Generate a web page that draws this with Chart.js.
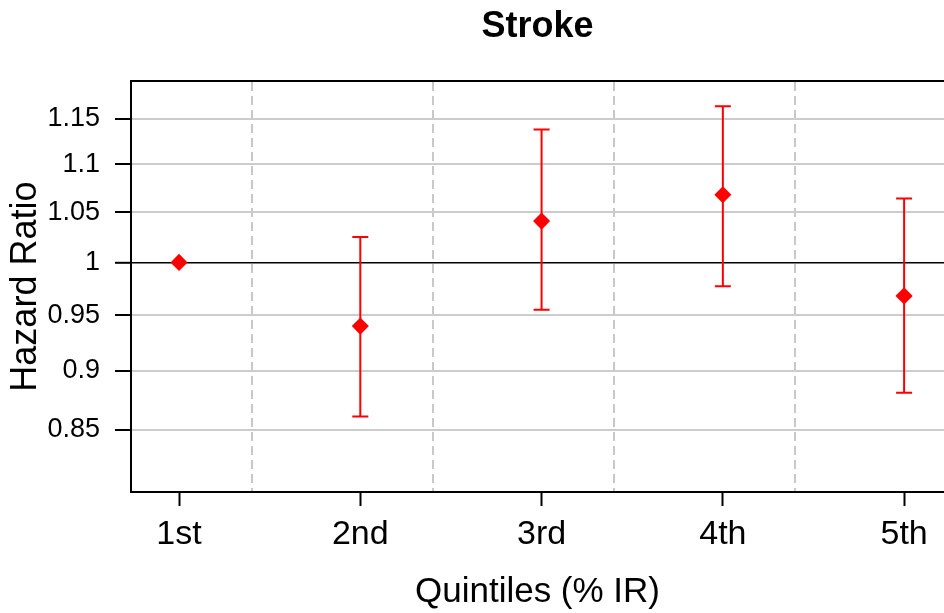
<!DOCTYPE html>
<html>
<head>
<meta charset="utf-8">
<script src="https://cdn.jsdelivr.net/npm/chart.js@4/dist/chart.umd.min.js"></script>
<style>
  html, body { margin: 0; padding: 0; background: #fff; overflow: hidden; }
  #c { display: block; }
</style>
</head>
<body>
<canvas id="c" width="944" height="613"></canvas>
<script>
const categories = ['1st', '2nd', '3rd', '4th', '5th'];
const hazardRatio = [1.000, 0.940, 1.041, 1.068, 0.968];
const lowerCI = [null, 0.861, 0.955, 0.977, 0.881];
const upperCI = [null, 1.025, 1.138, 1.164, 1.064];
const yTickValues = [0.85, 0.9, 0.95, 1, 1.05, 1.1, 1.15];
const dividerPositions = [1.4, 2.4, 3.4, 4.4];

const FONT = "'Liberation Sans', Arial, sans-serif";
Chart.defaults.color = '#000';
Chart.defaults.font.family = FONT;

const points = categories.map((c, i) => ({ x: i + 1, y: hazardRatio[i] }));

const errorBars = {
  id: 'errorBars',
  beforeDatasetsDraw(chart) {
    const xs = chart.scales.x, ys = chart.scales.y, ctx = chart.ctx;
    ctx.save();
    ctx.setLineDash([]);
    ctx.strokeStyle = '#ff0000';
    ctx.lineWidth = 2;
    categories.forEach((c, i) => {
      if (lowerCI[i] == null || upperCI[i] == null) return;
      const px = xs.getPixelForValue(i + 1);
      const pLo = ys.getPixelForValue(lowerCI[i]);
      const pHi = ys.getPixelForValue(upperCI[i]);
      ctx.beginPath();
      ctx.moveTo(px, pLo); ctx.lineTo(px, pHi);
      ctx.moveTo(px - 8, pLo); ctx.lineTo(px + 8, pLo);
      ctx.moveTo(px - 8, pHi); ctx.lineTo(px + 8, pHi);
      ctx.stroke();
    });
    ctx.restore();
  }
};

function noSidePadding(s) { s.paddingLeft = 0; s.paddingRight = 0; }

new Chart(document.getElementById('c'), {
  type: 'scatter',
  data: {
    datasets: [{
      data: points,
      pointStyle: 'rectRot',
      pointRadius: 7.5,
      pointHoverRadius: 7.5,
      backgroundColor: '#ff0000',
      borderColor: '#ff0000',
      borderWidth: 1.5
    }]
  },
  plugins: [errorBars],
  options: {
    responsive: false,
    animation: false,
    devicePixelRatio: 1,
    layout: { padding: 0, autoPadding: false },
    plugins: {
      legend: { display: false },
      tooltip: { enabled: false },
      title: {
        display: true,
        text: 'Stroke',
        fullSize: false,
        color: '#000',
        font: { family: FONT, size: 36, weight: 'bold', lineHeight: 1.2 },
        padding: { top: 5, bottom: 33 }
      }
    },
    scales: {
      x: {
        type: 'linear',
        position: 'bottom',
        min: 0.735,
        max: 5.22,
        afterBuildTicks(s) { s.ticks = categories.map((c, i) => ({ value: i + 1 })); },
        afterFit(s) { s.height = 121; noSidePadding(s); },
        ticks: {
          callback: (v) => categories[Math.round(v) - 1],
          font: { family: FONT, size: 34 },
          color: '#000',
          padding: 8,
          maxRotation: 0,
          autoSkip: false
        },
        grid: {
          drawOnChartArea: false,
          drawTicks: true,
          tickLength: 14,
          tickColor: '#000',
          tickWidth: 2,
          color: '#000'
        },
        border: { display: true, color: '#000', width: 2 },
        title: {
          display: true,
          text: 'Quintiles (% IR)',
          color: '#000',
          font: { family: FONT, size: 35, lineHeight: 1.2 },
          padding: { top: 0, bottom: 0 }
        }
      },
      x2: {
        type: 'linear',
        position: 'top',
        min: 0.735,
        max: 5.22,
        afterBuildTicks(s) { s.ticks = dividerPositions.map(v => ({ value: v })); },
        afterFit(s) { s.height = 0; noSidePadding(s); },
        ticks: { display: false },
        grid: {
          drawOnChartArea: true,
          drawTicks: false,
          color: '#c8c8c8',
          lineWidth: 2
        },
        border: { display: true, color: '#000', width: 2, dash: [9, 5] },
        title: { display: false }
      },
      y: {
        type: 'logarithmic',
        position: 'left',
        min: 0.8029,
        max: 1.1926,
        afterBuildTicks(s) { s.ticks = yTickValues.map(v => ({ value: v })); },
        afterFit(s) { s.width = 131; },
        ticks: {
          callback: (v) => String(v),
          font: { family: FONT, size: 27 },
          color: '#000',
          padding: 15,
          autoSkip: false
        },
        grid: {
          drawOnChartArea: true,
          drawTicks: true,
          tickLength: 16,
          tickColor: '#000',
          tickWidth: 2,
          color: (ctx) => (ctx.tick && ctx.tick.value === 1) ? '#000' : '#cccccc',
          lineWidth: (ctx) => (ctx.tick && ctx.tick.value === 1) ? 1.6 : 2
        },
        border: { display: true, color: '#000', width: 2 },
        title: {
          display: true,
          text: 'Hazard Ratio',
          color: '#000',
          font: { family: FONT, size: 36, lineHeight: 1.2 },
          padding: { top: 4, bottom: 0 }
        }
      }
    }
  }
});
</script>
</body>
</html>
